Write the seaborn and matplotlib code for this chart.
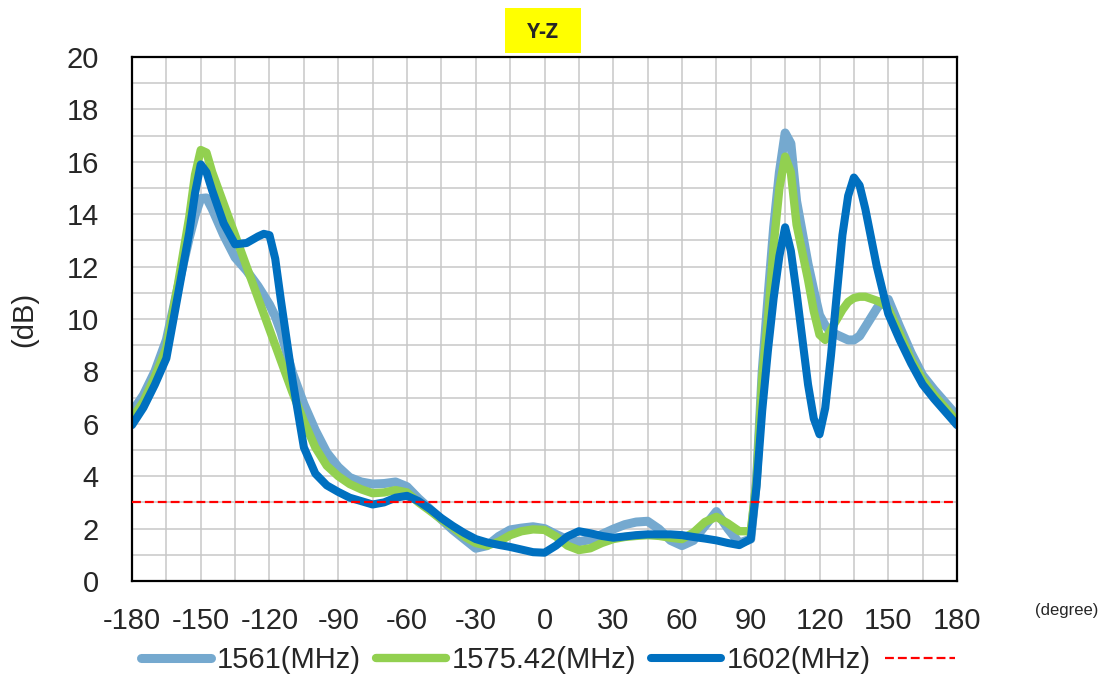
import numpy as np
import pandas as pd
import matplotlib
matplotlib.use("Agg")
import matplotlib.pyplot as plt
import seaborn as sns
from matplotlib.lines import Line2D
from matplotlib.patches import Rectangle

# angle (degree); every 5 degrees, a bit finer around the peaks
deg = ([-180, -175, -170, -165, -160, -155, -152.5, -150, -147.5, -145, -140, -135,
        -130, -125, -122.5, -120, -117.5, -115]
       + list(range(-110, 95, 5))
       + [92.5, 95, 97.5, 100, 102.5, 105, 107.5, 110, 115, 117.5, 120, 122.5, 125,
          130, 132.5, 135, 137.5, 140, 145, 147.5, 150, 155, 160, 165, 170, 175, 180])

# gain values (dB)
f1561 = ([6.45, 7.1, 8.0, 9.2, 11.2, 13.1, 13.95, 14.6, 14.62, 14.2, 13.2, 12.35,
          11.85, 11.25, 10.9, 10.55, 10.1, 9.5]
         + [7.95, 6.75, 5.75, 4.9, 4.35, 3.95, 3.78, 3.7, 3.72, 3.78, 3.6, 3.15,
            2.75, 2.35, 1.95, 1.6, 1.25, 1.35, 1.7, 1.95, 2.02, 2.07, 2.0, 1.78,
            1.58, 1.5, 1.58, 1.78, 1.98, 2.15, 2.25, 2.28, 1.98, 1.55, 1.35, 1.55,
            2.1, 2.65, 2.0, 1.45, 1.6]
         + [3.8, 8.0, 10.8, 13.5, 15.6, 17.1, 16.7, 14.5, 12.1, 11.1, 10.15, 9.75, 9.5,
            9.3, 9.2, 9.2, 9.35, 9.7, 10.4, 10.7, 10.75, 9.7, 8.7, 7.85, 7.3, 6.8, 6.3])
f1575 = ([6.2, 6.85, 7.8, 8.9, 11.3, 13.9, 15.5, 16.45, 16.35, 15.6, 14.4, 13.2,
          12.0, 10.8, 10.2, 9.6, 9.0, 8.4]
         + [7.2, 6.1, 5.1, 4.4, 4.0, 3.7, 3.5, 3.35, 3.38, 3.47, 3.38, 3.0,
            2.68, 2.35, 2.05, 1.7, 1.45, 1.35, 1.5, 1.75, 1.9, 1.97, 1.95, 1.7,
            1.35, 1.18, 1.25, 1.45, 1.6, 1.68, 1.72, 1.75, 1.72, 1.65, 1.6, 1.85,
            2.25, 2.45, 2.2, 1.9, 1.9]
         + [3.8, 7.8, 10.0, 12.8, 15.0, 16.2, 15.6, 13.6, 11.5, 10.3, 9.4, 9.2, 9.6,
            10.35, 10.65, 10.8, 10.85, 10.85, 10.7, 10.6, 10.4, 9.45, 8.45, 7.7, 7.1, 6.6, 6.1])
f1602 = ([5.95, 6.62, 7.5, 8.5, 10.9, 13.3, 14.8, 15.9, 15.6, 14.9, 13.65, 12.85,
          12.9, 13.15, 13.25, 13.2, 12.3, 10.7]
         + [7.7, 5.1, 4.1, 3.65, 3.4, 3.18, 3.05, 2.92, 3.0, 3.18, 3.25, 3.05,
            2.75, 2.4, 2.1, 1.83, 1.6, 1.47, 1.38, 1.3, 1.2, 1.1, 1.08, 1.35,
            1.7, 1.9, 1.82, 1.72, 1.65, 1.7, 1.75, 1.78, 1.78, 1.78, 1.75, 1.68,
            1.62, 1.55, 1.45, 1.37, 1.6]
         + [3.6, 6.5, 8.8, 10.8, 12.4, 13.5, 12.6, 11.0, 7.5, 6.2, 5.6, 6.6, 8.6,
            13.2, 14.7, 15.4, 15.1, 14.2, 12.0, 11.1, 10.2, 9.2, 8.3, 7.5, 6.95, 6.45, 5.95])
limit = 3.0

labels = ["1561(MHz)", "1575.42(MHz)", "1602(MHz)"]
colors = ["#75A9CF", "#92D050", "#0070C0"]
widths = [6.5, 6.0, 5.8]

df = pd.concat([
    pd.DataFrame({"deg": deg, "dB": vals, "freq": lab})
    for vals, lab in zip([f1561, f1575, f1602], labels)
])

sns.set_style("white")
plt.rcParams["font.family"] = ["Liberation Sans", "DejaVu Sans"]
plt.rcParams["axes.unicode_minus"] = False

fig = plt.figure(figsize=(11.13, 6.79), dpi=100)
ax = fig.add_axes([132 / 1113, 1 - 581 / 679, 825 / 1113, 524 / 679])

sns.lineplot(data=df, x="deg", y="dB", hue="freq", palette=dict(zip(labels, colors)),
             estimator=None, sort=False, ax=ax, legend=False)
for line, lw in zip(ax.get_lines(), widths):
    line.set_linewidth(lw)
    line.set_solid_joinstyle("round")
    line.set_solid_capstyle("round")

ax.plot([deg[0], deg[-1]], [limit, limit], color="#FF0000", lw=1.6,
        linestyle=(0, (4, 1.8)), zorder=5)

ax.set_xlim(-180, 180)
ax.set_ylim(0, 20)
ax.set_xticks(range(-180, 181, 30))
ax.set_xticks(range(-165, 180, 30), minor=True)
ax.set_yticks(range(0, 21, 2))
ax.set_yticks(range(1, 20, 2), minor=True)
ax.grid(which="both", color="#C8C8C8", lw=1.1)
ax.set_axisbelow(True)
ax.tick_params(axis="both", which="major", direction="in", length=7, width=1.5,
               color="#333333", labelsize=21)
ax.tick_params(axis="y", which="major", pad=24)
ax.tick_params(axis="x", which="major", pad=19)
ax.tick_params(which="minor", length=0)
for s in ax.spines.values():
    s.set_color("black")
    s.set_linewidth(1.6)

ax.set_xlabel("")
ax.set_ylabel("(dB)", fontsize=21, labelpad=20)
fig.text(1067 / 1113, 1 - 610 / 679, "(degree)", fontsize=12, ha="center", va="center")

# title box
fig.patches.append(Rectangle((505 / 1113, 1 - 53 / 679), 76 / 1113, 45 / 679,
                             transform=fig.transFigure, facecolor="#FFFF00",
                             edgecolor="none"))
fig.text(543 / 1113, 1 - 32 / 679, "Y-Z", fontsize=15, fontweight="bold",
         family="Open Sans", ha="center", va="center")

handles = [Line2D([], [], color=c, lw=lw, solid_capstyle="round") for c, lw in zip(colors, widths)]
handles.append(Line2D([], [], color="#FF0000", lw=1.6, linestyle=(0, (4, 1.8))))
fig.legend(handles, labels + [""], loc="center", ncol=4, frameon=False,
           bbox_to_anchor=(551 / 1113, 1 - 660 / 679), fontsize=21,
           handlelength=2.4, handletextpad=0.2, columnspacing=0.5)

fig.savefig("out.png", dpi=100)
